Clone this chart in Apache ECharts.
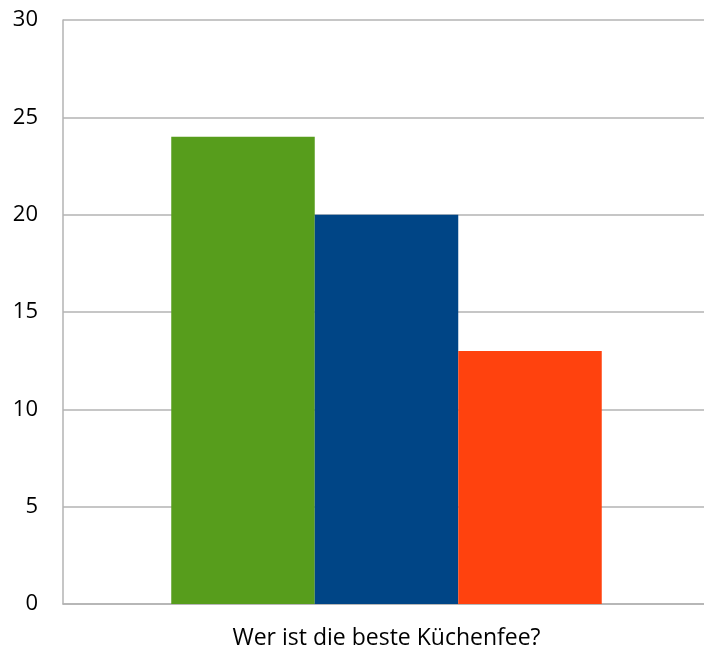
<!DOCTYPE html>
<html><head><meta charset="utf-8">
<script src="https://cdn.jsdelivr.net/npm/echarts@6/dist/echarts.min.js"></script>
<style>html,body{margin:0;padding:0;background:#fff}#c{width:704px;height:653px}</style>
</head><body><div id="c"></div>
<script>
const categories = ['Wer ist die beste Küchenfee?'];
const seriesNames = ['A', 'B', 'C'];
const seriesValues = [[24], [20], [13]];
const colors = ['#579D1C', '#004586', '#FF420E'];
const yTicks = {min: 0, max: 30, interval: 5};

const chart = echarts.init(document.getElementById('c'));
chart.setOption({
  animation: false,
  grid: {left: 63, right: -6, top: 20, bottom: 49, outerBoundsMode: 'none', containLabel: false},
  xAxis: {
    type: 'category', data: categories,
    axisTick: {show: false},
    axisLine: {lineStyle: {color: '#b3b3b3', width: 1.5}},
    axisLabel: {color: '#000', fontFamily: 'Open Sans', fontSize: 23, margin: 23}
  },
  yAxis: {
    type: 'value', min: yTicks.min, max: yTicks.max, interval: yTicks.interval,
    axisLine: {show: true, lineStyle: {color: '#b3b3b3', width: 1.5}},
    axisTick: {show: false},
    splitLine: {lineStyle: {color: '#b3b3b3', width: 1.5}},
    axisLabel: {color: '#000', fontFamily: 'Open Sans', fontSize: 22, margin: 25}
  },
  series: seriesNames.map((n, i) => ({
    name: n, type: 'bar', data: seriesValues[i],
    barWidth: 143.5, barGap: '0%',
    itemStyle: {color: colors[i]}
  }))
});
</script></body></html>
